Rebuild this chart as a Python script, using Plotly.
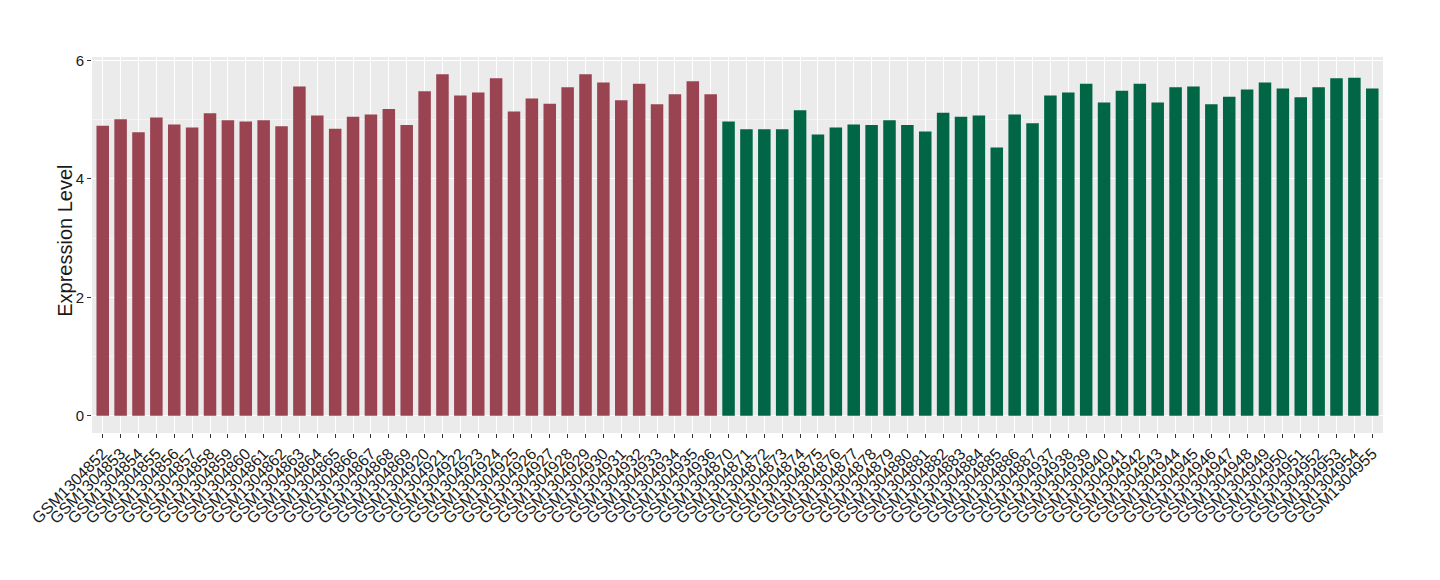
import plotly.graph_objects as go

# samples in plotting order, split by group
group_a_samples = [f"GSM13048{n}" for n in range(52, 70)] + [f"GSM13049{n}" for n in range(20, 37)]
group_b_samples = [f"GSM13048{n}" for n in range(70, 88)] + [f"GSM13049{n}" for n in range(37, 56)]

group_a_values = [
    4.90, 5.01, 4.79, 5.04, 4.92, 4.87, 5.11, 4.99, 4.97, 4.99,
    4.89, 5.56, 5.07, 4.85, 5.05, 5.09, 5.18, 4.91,
    5.48, 5.77, 5.41, 5.46, 5.70, 5.14, 5.36, 5.27, 5.55, 5.77,
    5.63, 5.33, 5.61, 5.26, 5.43, 5.65, 5.43,
]
group_b_values = [
    4.97, 4.84, 4.84, 4.84, 5.16, 4.75, 4.87, 4.92, 4.91, 4.99,
    4.91, 4.80, 5.12, 5.05, 5.07, 4.53, 5.09, 4.94,
    5.41, 5.46, 5.61, 5.29, 5.49, 5.61, 5.29, 5.55, 5.56, 5.26,
    5.39, 5.51, 5.63, 5.53, 5.38, 5.55, 5.70, 5.71, 5.53,
]

y_ticks = [0, 2, 4, 6]

RED = "#9A4351"
GREEN = "#006645"
FONT = "Liberation Sans, Arial, sans-serif"

all_samples = group_a_samples + group_b_samples

fig = go.Figure()
fig.add_trace(go.Bar(x=group_a_samples, y=group_a_values, marker=dict(color=RED, line=dict(width=0)),
                     width=0.7, showlegend=False))
fig.add_trace(go.Bar(x=group_b_samples, y=group_b_values, marker=dict(color=GREEN, line=dict(width=0)),
                     width=0.7, showlegend=False))

# the page body adds an 8px offset, so margins are trimmed to keep the panel in place
fig.update_layout(
    width=1440,
    height=580,
    barmode="overlay",
    paper_bgcolor="white",
    plot_bgcolor="#EBEBEB",
    margin=dict(l=84, r=65, t=49, b=155),
    font=dict(family=FONT, color="#1a1a1a"),
    showlegend=False,
    annotations=[
        dict(
            text="Expression Level",
            xref="paper", yref="paper",
            x=-0.0205, y=0.51,
            xanchor="center", yanchor="middle",
            textangle=-90,
            showarrow=False,
            font=dict(size=20, color="#1a1a1a"),
        )
    ],
)

fig.update_xaxes(
    type="category",
    categoryorder="array",
    categoryarray=all_samples,
    tickmode="array",
    tickvals=all_samples,
    ticktext=all_samples,
    range=[-0.6, len(all_samples) - 0.4],
    tickangle=-45,
    tickfont=dict(size=16, color="#1a1a1a"),
    ticks="outside",
    ticklen=4,
    tickcolor="#333333",
    showgrid=True,
    gridcolor="white",
    gridwidth=1,
    showline=False,
    zeroline=False,
    automargin=False,
)

fig.update_yaxes(
    range=[-0.29, 6.06],
    tickvals=y_ticks,
    tickfont=dict(size=15, color="#1a1a1a"),
    ticks="outside",
    ticklen=4,
    tickcolor="#333333",
    showgrid=True,
    gridcolor="white",
    gridwidth=1,
    minor=dict(tick0=0, dtick=1, showgrid=True, gridcolor="#F5F5F5", gridwidth=0.6),
    zeroline=False,
    showline=False,
    automargin=False,
)

fig.write_html("out.html")
